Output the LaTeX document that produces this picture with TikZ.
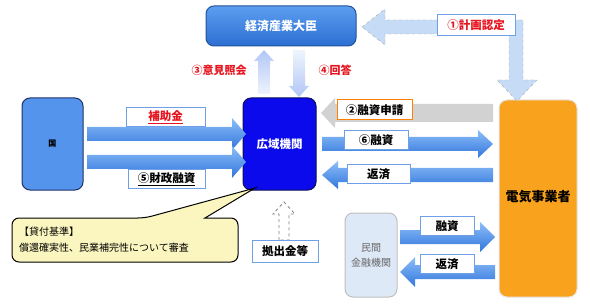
\documentclass[tikz,border=0pt]{standalone}
\usepackage{fontspec}
\setmainfont{Noto Sans CJK JP}
\usetikzlibrary{shadings}
\definecolor{mblue}{RGB}{50,118,220}
\definecolor{lblue}{RGB}{140,190,248}
\definecolor{paleblue}{RGB}{198,220,246}
\definecolor{kuni}{RGB}{84,148,236}
\definecolor{koiki}{RGB}{10,10,236}
\definecolor{denki}{RGB}{249,162,30}
\definecolor{minkan}{RGB}{222,233,248}
\definecolor{callfill}{RGB}{251,246,192}
\definecolor{lbord}{RGB}{110,160,232}
\definecolor{redtxt}{RGB}{230,20,30}
\tikzset{
  bluearrow/.style={top color=lblue, bottom color=mblue, draw=none},
  palearrow/.style={fill=paleblue, draw=gray!70, dashed},
  grayarrow/.style={fill=gray!35, draw=none},
  lab/.style={draw=lbord, line width=1pt, fill=white, font=\bfseries\fontsize{11.5}{12}\selectfont, inner sep=0pt, minimum height=19pt},
  rbox/.style={rounded corners=8pt, line width=1pt},
}
% horizontal block arrow: style, x tail, x tip, y centre, shaft half, head half, head length (signed)
\newcommand\harrow[7]{\path[#1] (#2,{#4-#5}) -- ({#3-(#7)},{#4-#5}) -- ({#3-(#7)},{#4-#6}) -- (#3,#4) -- ({#3-(#7)},{#4+#6}) -- ({#3-(#7)},{#4+#5}) -- (#2,{#4+#5}) -- cycle;}
% vertical block arrow: style, y tail, y tip, x centre, shaft half, head half, head length (signed)
\newcommand\varrow[7]{\path[#1] ({#4-#5},#2) -- ({#4-#5},{#3-(#7)}) -- ({#4-#6},{#3-(#7)}) -- (#4,#3) -- ({#4+#6},{#3-(#7)}) -- ({#4+#5},{#3-(#7)}) -- ({#4+#5},#2) -- cycle;}
\begin{document}
\begin{tikzpicture}[x=1pt,y=-1pt]
\useasboundingbox (0,0) rectangle (590,305);
% boxes
\node[rbox, draw=mblue!70!black, top color={rgb,255:red,92;green,158;blue,240}, bottom color={rgb,255:red,44;green,110;blue,210}, minimum width=150pt, minimum height=40pt, text=white, font=\bfseries\fontsize{12}{13}\selectfont] (meti) at (281,26) {経済産業大臣};
\node[rbox, draw={rgb,255:red,30;green,50;blue,100}, fill=kuni, minimum width=61pt, minimum height=92pt, font=\bfseries\fontsize{8}{9}\selectfont] (kuni) at (52.5,144) {国};
\node[rbox, draw={rgb,255:red,15;green,15;blue,90}, fill=koiki, minimum width=73pt, minimum height=92pt, text=white, font=\bfseries\fontsize{11.5}{12}\selectfont] (koiki) at (279.5,144) {広域機関};
\node[rbox, draw=gray!20, fill=denki, minimum width=78pt, minimum height=197pt] (denki) at (538,198.5) {};
\node[font=\bfseries\fontsize{13}{14}\selectfont] (denkit) at (538,197) {電気事業者};
\node[rbox, draw=gray!50, fill=minkan, minimum width=52pt, minimum height=84pt, text=gray!80!black, font=\fontsize{10}{15}\selectfont, align=center] (minkan) at (371,255) {民間\\金融機関};
% plan approval L arrow
\path[palearrow] (362,27) -- (385,9) -- (385,20) -- (523,20) -- (523,80) -- (537,80) -- (517,101) -- (497,80) -- (509,80) -- (509,34) -- (385,34) -- (385,45) -- cycle;
\node[lab, text=redtxt, minimum width=78pt, minimum height=21pt] (l1) at (476,25.5) {①計画認定};
% consultation arrows
\varrow{top color=paleblue!90!blue, bottom color=paleblue!30!white, draw=none}{94}{50}{264}{6}{10}{-11}
\varrow{top color=paleblue!30!white, bottom color=paleblue!90!blue, draw=none}{50}{97}{299}{6}{10}{11}
\node[text=redtxt, font=\bfseries\fontsize{11}{12}\selectfont] (l3) at (219,70) {③意見照会};
\node[text=redtxt, font=\bfseries\fontsize{11}{12}\selectfont] (l4) at (335,70) {④回答};
% kuni -> koiki
\harrow{bluearrow}{87}{246}{134}{7}{16}{14}
\harrow{bluearrow}{87}{246}{162}{7}{16}{14}
\node[lab, minimum width=79pt, text=redtxt] (l5) at (165.5,117.5) {\underline{補助金}};
\node[lab, minimum width=77pt] (l6) at (166.5,179) {\underline{⑤財政融資}};
% application
\harrow{grayarrow}{493}{321}{113}{9}{15}{-14}
\node[lab, draw=orange, minimum width=75pt, minimum height=20pt] (l2) at (374.5,110) {②融資申請};
% koiki <-> denki
\harrow{bluearrow}{322}{493}{144}{7}{14}{15}
\harrow{bluearrow}{493}{322}{175}{7}{14}{-16}
\node[lab, minimum width=64pt] (l7) at (376,140) {⑥融資};
\node[lab, minimum width=63pt] (l8) at (378.5,174) {返済};
% minkan <-> denki
\harrow{bluearrow}{400}{495}{237}{7}{15}{15}
\harrow{bluearrow}{495}{400}{272}{7}{15}{-15}
\node[lab, minimum width=54pt] (l9) at (447,226) {融資};
\node[lab, minimum width=54pt] (l10) at (447,264) {返済};
% contribution dashed arrow
\varrow{fill=white, draw=gray, dashed, line width=0.8pt}{240}{202}{284}{5}{11}{-12}
\node[lab, minimum width=66pt, minimum height=22pt] (l11) at (285,251) {拠出金等};
% callout
\draw[fill=callfill, line width=1pt] (145,218) -- (255,188) -- (205,218) [rounded corners=7pt] -- (238,218) -- (238,262) -- (12,262) -- (12,218) -- cycle;
\node[anchor=west, align=left, font=\fontsize{10}{16}\selectfont, inner sep=0pt] (callt) at (19,239.5) {【貸付基準】\\償還確実性、民業補完性について審査};
\end{tikzpicture}
\end{document}
